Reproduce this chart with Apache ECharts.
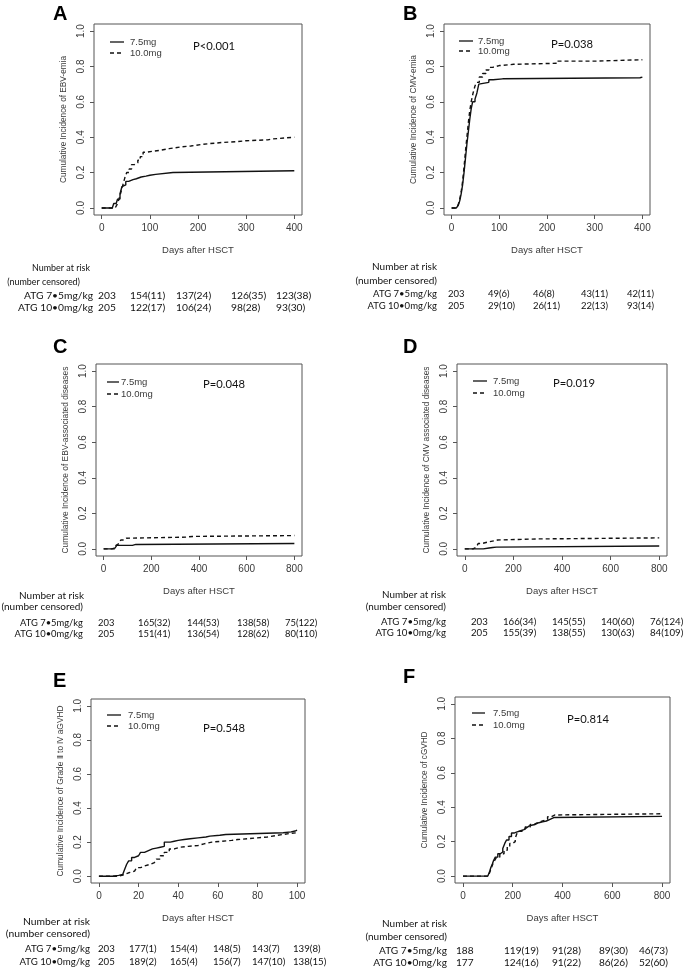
<!DOCTYPE html>
<html><head><meta charset="utf-8">
<script src="https://cdn.jsdelivr.net/npm/echarts@6/dist/echarts.min.js"></script>
<style>html,body{margin:0;padding:0;background:#fff}#c{width:685px;height:970px}</style>
</head><body><div id="c"></div><script>
// ---------- data ----------
const yTicks = [0, 0.2, 0.4, 0.6, 0.8, 1.0];
const xTicks400 = [0, 100, 200, 300, 400];
const xTicks800 = [0, 200, 400, 600, 800];
const xTicks100 = [0, 20, 40, 60, 80, 100];
const legendNames = ['7.5mg', '10.0mg'];
const xName = 'Days after HSCT';
const riskHeader = ['Number at risk', '(number censored)'];
const groupLabels = ['ATG 7\u20225mg/kg', 'ATG 10\u20220mg/kg'];

// Panel A: EBV-emia
const a75 = [[0,0],[22,0.01],[25,0.025],[30,0.03],[33,0.05],[38,0.08],[42,0.12],[46,0.13],[50,0.15],[56,0.16],[65,0.165],[72,0.175],[82,0.18],[92,0.185],[100,0.19],[112,0.2],[148,0.21],[400,0.21]];
const a10 = [[0,0],[28,0.005],[32,0.02],[36,0.05],[40,0.09],[44,0.13],[48,0.17],[52,0.2],[57,0.22],[62,0.245],[68,0.255],[75,0.27],[80,0.29],[86,0.315],[92,0.32],[105,0.325],[120,0.335],[140,0.345],[165,0.35],[185,0.36],[210,0.37],[250,0.375],[280,0.38],[300,0.385],[345,0.39],[355,0.4],[400,0.4]];
const riskA75 = ['203','154(11)','137(24)','126(35)','123(38)'];
const riskA10 = ['205','122(17)','106(24)','98(28)','93(30)'];

// Panel B: CMV-emia
const b75 = [[0,0],[10,0.005],[14,0.015],[17,0.04],[20,0.08],[23,0.13],[26,0.2],[29,0.28],[32,0.36],[35,0.43],[38,0.5],[41,0.56],[44,0.6],[49,0.615],[53,0.65],[57,0.7],[60,0.71],[78,0.725],[87,0.73],[107,0.736],[395,0.74],[400,0.74]];
const b10 = [[0,0],[10,0.005],[14,0.02],[17,0.05],[20,0.09],[23,0.15],[26,0.23],[29,0.32],[32,0.4],[35,0.48],[38,0.55],[41,0.6],[45,0.65],[49,0.69],[52,0.71],[58,0.74],[65,0.76],[72,0.78],[78,0.795],[86,0.805],[100,0.812],[130,0.818],[222,0.83],[300,0.838],[400,0.838]];
const riskB75 = ['203','49(6)','46(8)','43(11)','42(11)'];
const riskB10 = ['205','29(10)','26(11)','22(13)','93(14)'];

// Panel C: EBV-associated diseases
const c75 = [[0,0],[34,0],[40,0.005],[48,0.01],[55,0.02],[121,0.025],[135,0.03],[800,0.03]];
const c10 = [[0,0],[34,0],[45,0.01],[52,0.02],[57,0.03],[65,0.04],[72,0.05],[85,0.06],[95,0.066],[345,0.07],[372,0.075],[800,0.075]];
const riskC75 = ['203','165(32)','144(53)','138(58)','75(122)'];
const riskC10 = ['205','151(41)','136(54)','128(62)','80(110)'];

// Panel D: CMV associated diseases
const d75 = [[0,0],[76,0.005],[100,0.008],[115,0.01],[130,0.016],[800,0.016]];
const d10 = [[0,0],[34,0],[40,0.01],[48,0.02],[55,0.03],[70,0.04],[100,0.045],[120,0.05],[135,0.056],[300,0.062],[800,0.062]];
const riskD75 = ['203','166(34)','145(55)','140(60)','76(124)'];
const riskD10 = ['205','155(39)','138(55)','130(63)','84(109)'];

// Panel E: Grade II-IV aGVHD
const e75 = [[0,0],[7,0],[8,0.005],[10,0.01],[12,0.02],[13,0.04],[14,0.07],[15,0.09],[16.5,0.11],[18,0.12],[20,0.13],[21,0.14],[23,0.15],[25,0.16],[27,0.165],[29,0.17],[31,0.175],[33,0.2],[36,0.205],[38,0.21],[40,0.215],[43,0.22],[46,0.225],[50,0.23],[54,0.235],[56,0.24],[61,0.245],[64,0.255],[93,0.26],[97,0.265],[99,0.27],[100,0.27]];
const e10 = [[0,0],[10,0],[11,0.01],[13,0.02],[15,0.03],[18,0.04],[19,0.05],[21,0.06],[23,0.07],[26,0.08],[28,0.09],[29,0.1],[31,0.12],[33,0.14],[35.5,0.16],[38,0.17],[41,0.175],[45,0.18],[50,0.19],[53,0.2],[57,0.205],[62,0.21],[67,0.215],[70,0.22],[75,0.225],[80,0.23],[85,0.24],[90,0.245],[93,0.25],[96,0.255],[100,0.26]];
const riskE75 = ['203','177(1)','154(4)','148(5)','143(7)','139(8)'];
const riskE10 = ['205','189(2)','165(4)','156(7)','147(10)','138(15)'];

// Panel F: cGVHD
const f75 = [[0,0],[100,0],[103,0.01],[108,0.03],[112,0.05],[118,0.07],[123,0.09],[130,0.11],[140,0.13],[150,0.14],[160,0.16],[168,0.19],[175,0.21],[185,0.23],[195,0.25],[205,0.255],[215,0.265],[235,0.27],[245,0.28],[255,0.29],[265,0.295],[275,0.3],[290,0.31],[305,0.315],[320,0.32],[335,0.33],[350,0.34],[365,0.347],[800,0.347]];
const f10 = [[0,0],[103,0],[107,0.02],[112,0.04],[120,0.07],[127,0.09],[135,0.11],[148,0.13],[165,0.15],[178,0.17],[188,0.19],[200,0.2],[210,0.22],[215,0.24],[220,0.26],[235,0.27],[250,0.285],[270,0.3],[285,0.31],[300,0.32],[320,0.33],[340,0.345],[355,0.355],[370,0.362],[800,0.362]];
const riskF75 = ['188','119(19)','91(28)','89(30)','46(73)'];
const riskF10 = ['177','124(16)','91(22)','86(26)','52(60)'];

// ---------- layout ----------
const PF = "'Liberation Sans Narrow','Liberation Sans',Arial,sans-serif";
const TFAM = "Lato,'Open Sans',sans-serif";
const mctx = document.createElement('canvas').getContext('2d');
function fitSize(text, family, targetW) {
  mctx.font = '20px ' + family;
  return +(20 * targetW / mctx.measureText(text).width).toFixed(2);
}
const panels = [
  {letter:'A', lx:53, ly:4, xMax:400, xTicks:xTicks400, yName:'Cumulative Incidence of EBV-emia', yNameW:127,
   grid:{left:94,top:24,width:208,height:191}, s75:a75, s10:a10, r75:riskA75, r10:riskA10, p:'P<0.001',
   leg:{x1:110,x2:124,tx:130,y1:42,y2:53}, pt:{x:193,y:46},
   tab:{right:93, hRight:[90,80], ys:[268,282,296,308], cols:[98,130,176,231,276], hW:58, rW:69}},
  {letter:'B', lx:403, ly:4, xMax:400, xTicks:xTicks400, yName:'Cumulative Incidence of CMV-emia', yNameW:129,
   grid:{left:444,top:24,width:206,height:191}, s75:b75, s10:b10, r75:riskB75, r10:riskB10, p:'P=0.038',
   leg:{x1:459,x2:473,tx:478,y1:41,y2:51}, pt:{x:551,y:44},
   tab:{right:437, hRight:[437,437], ys:[267,281,294,306], cols:[448,488,533,581,627], hW:65, rW:64}},
  {letter:'C', lx:53, ly:337, xMax:800, xTicks:xTicks800, yName:'Cumulative Incidence of EBV-associated diseases', yNameW:187,
   grid:{left:96,top:364,width:206,height:192}, s75:c75, s10:c10, r75:riskC75, r10:riskC10, p:'P=0.048',
   leg:{x1:107,x2:119,tx:121,y1:382,y2:394}, pt:{x:203,y:384},
   tab:{right:83, hRight:[84,83], ys:[596,607,623,634], cols:[98,138,187,237,285], hW:65, rW:63}},
  {letter:'D', lx:403, ly:337, xMax:800, xTicks:xTicks800, yName:'Cumulative Incidence of CMV associated diseases', yNameW:187,
   grid:{left:457,top:364,width:210,height:192}, s75:d75, s10:d10, r75:riskD75, r10:riskD10, p:'P=0.019',
   leg:{x1:473,x2:487,tx:493,y1:381,y2:393}, pt:{x:553,y:383},
   tab:{right:446, hRight:[446,446], ys:[595,607,622,633], cols:[471,503,552,601,650], hW:64, rW:65}},
  {letter:'E', lx:53, ly:671, xMax:100, xTicks:xTicks100, yName:'Cumulative Incidence of Grade \u2161 to \u2163 aGVHD', yNameW:172,
   grid:{left:91,top:699,width:214,height:184}, s75:e75, s10:e10, r75:riskE75, r10:riskE10, p:'P=0.548',
   leg:{x1:107,x2:121,tx:128,y1:715,y2:726}, pt:{x:203,y:728},
   tab:{right:90, hRight:[90,90], ys:[922,934,949,962], cols:[98,129,170,213,252,293], hW:67, rW:65}},
  {letter:'F', lx:403, ly:667, xMax:800, xTicks:xTicks800, yName:'Cumulative Incidence of cGVHD', yNameW:117,
   grid:{left:455,top:697,width:215,height:186}, s75:f75, s10:f10, r75:riskF75, r10:riskF10, p:'P=0.814',
   leg:{x1:472,x2:485,tx:493,y1:713,y2:725}, pt:{x:567,y:719},
   tab:{right:447, hRight:[447,447], ys:[924,937,951,963], cols:[456,504,552,599,639], hW:65, rW:68}}
];

const grids = [], xAxes = [], yAxes = [], series = [], graphics = [];
const LINE = '#111', AX = '#555', TXT = '#3a3a3a', TAB = '#111';
const pSize = fitSize('P=0.038', TFAM, 42);
panels.forEach((p, i) => {
  grids.push(Object.assign({show:true, borderColor:AX, borderWidth:1, backgroundColor:'transparent'}, p.grid));
  xAxes.push({type:'value', gridIndex:i, min:-0.04*p.xMax, max:1.04*p.xMax,
    name:xName, nameLocation:'middle', nameGap:30,
    nameTextStyle:{fontFamily:PF, fontSize:9.5, color:TXT},
    axisLine:{show:false, onZero:false}, splitLine:{show:false},
    axisTick:{show:true, inside:false, length:4, lineStyle:{color:AX}, customValues:p.xTicks},
    axisLabel:{fontFamily:PF, fontSize:10, color:TXT, margin:8, customValues:p.xTicks}});
  const ynSize = fitSize(p.yName, PF, p.yNameW);
  yAxes.push({type:'value', gridIndex:i, min:-0.04, max:1.04,
    name:p.yName, nameLocation:'middle', nameGap:26, nameRotate:90,
    nameTextStyle:{fontFamily:PF, fontSize:ynSize, color:TXT},
    axisLine:{show:false, onZero:false}, splitLine:{show:false},
    axisTick:{show:true, inside:false, length:4, lineStyle:{color:AX}, customValues:yTicks},
    axisLabel:{fontFamily:PF, fontSize:10, color:TXT, rotate:90, margin:8,
      formatter:v => v.toFixed(1), customValues:yTicks}});
  [[p.s75,'solid',legendNames[0]],[p.s10,[4,3],legendNames[1]]].forEach(([d,t,n]) => {
    series.push({type:'line', name:n, xAxisIndex:i, yAxisIndex:i, data:d, step:'end',
      showSymbol:false, symbol:'none', silent:true, animation:false,
      lineStyle:{color:LINE, width:1.4, type:t}});
  });
  graphics.push({type:'text', x:p.lx, y:p.ly, style:{text:p.letter, font:'bold 20px "Liberation Sans",Arial,sans-serif', fill:'#000'}});
  graphics.push({type:'line', shape:{x1:p.leg.x1,y1:p.leg.y1,x2:p.leg.x2,y2:p.leg.y1}, style:{stroke:LINE, lineWidth:1.3}});
  graphics.push({type:'line', shape:{x1:p.leg.x1,y1:p.leg.y2,x2:p.leg.x2,y2:p.leg.y2}, style:{stroke:LINE, lineWidth:1.3, lineDash:[4,3]}});
  graphics.push({type:'text', x:p.leg.tx, y:p.leg.y1, style:{text:legendNames[0], font:'9.5px '+PF, fill:TXT, verticalAlign:'middle'}});
  graphics.push({type:'text', x:p.leg.tx, y:p.leg.y2, style:{text:legendNames[1], font:'9.5px '+PF, fill:TXT, verticalAlign:'middle'}});
  graphics.push({type:'text', x:p.pt.x, y:p.pt.y, style:{text:p.p, font:pSize+'px '+TFAM, fill:'#111', verticalAlign:'middle'}});
  // risk table
  const t = p.tab;
  const hf = fitSize(riskHeader[0], TFAM, t.hW) + 'px ' + TFAM;
  const rf = fitSize(groupLabels[0], TFAM, t.rW) + 'px ' + TFAM;
  riskHeader.forEach((l, k) => graphics.push({type:'text', x:t.hRight[k], y:t.ys[k], style:{text:l, font:hf, fill:TAB, align:'right', verticalAlign:'middle'}}));
  groupLabels.forEach((l, k) => graphics.push({type:'text', x:t.right, y:t.ys[2+k], style:{text:l, font:rf, fill:TAB, align:'right', verticalAlign:'middle'}}));
  [p.r75, p.r10].forEach((row, k) => row.forEach((v, j) => graphics.push({type:'text', x:t.cols[j], y:t.ys[2+k], style:{text:v, font:rf, fill:TAB, verticalAlign:'middle'}})));
});

const chart = echarts.init(document.getElementById('c'), null, {renderer:'canvas'});
chart.setOption({animation:false, backgroundColor:'#fff', grid:grids, xAxis:xAxes, yAxis:yAxes, series:series, graphic:graphics});
</script></body></html>
